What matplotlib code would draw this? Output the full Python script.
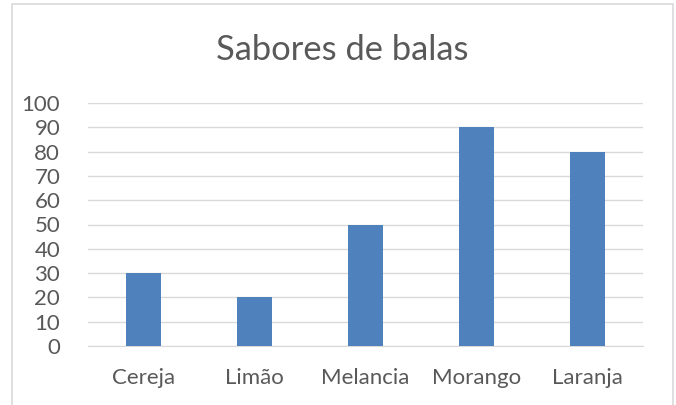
import matplotlib
matplotlib.use("Agg")
import matplotlib.pyplot as plt
from matplotlib.patches import Rectangle

categorias = ["Cereja", "Limão", "Melancia", "Morango", "Laranja"]
valores = [30, 20, 50, 90, 80]
yticks = list(range(0, 101, 10))

W, H = 676, 405
fig = plt.figure(figsize=(W / 100, H / 100), dpi=100)
plt.rcParams['font.family'] = ['Lato', 'DejaVu Sans']

# chart border (bottom edge runs past the image)
fig.patches.append(Rectangle((12 / W, -0.05), (673 - 12) / W, 1.05 - 4 / H,
                             transform=fig.transFigure, fill=False,
                             edgecolor='#D9D9D9', linewidth=1.2))

ax = fig.add_axes([88 / W, 1 - 346 / H, (643 - 88) / W, (346 - 103) / H])
x = range(len(categorias))
ax.bar(x, valores, width=0.315, color='#4F81BD', zorder=3)

ax.set_xlim(-0.5, len(categorias) - 0.5)
ax.set_ylim(0, 100)
ax.set_yticks(yticks)
ax.set_xticks(list(x))
ax.set_xticklabels(categorias)
ax.grid(axis='y', color='#D9D9D9', linewidth=1, zorder=0)
for s in ['top', 'right', 'left']:
    ax.spines[s].set_visible(False)
ax.spines['bottom'].set_color('#D9D9D9')
ax.tick_params(length=0, labelsize=16, colors='#595959')
ax.tick_params(axis='y', pad=20)
ax.tick_params(axis='x', pad=16)

fig.text(342 / W, 1 - 50 / H, "Sabores de balas", ha='center', va='center',
         fontsize=24.8, color='#595959')

fig.savefig("out.png", dpi=100)
